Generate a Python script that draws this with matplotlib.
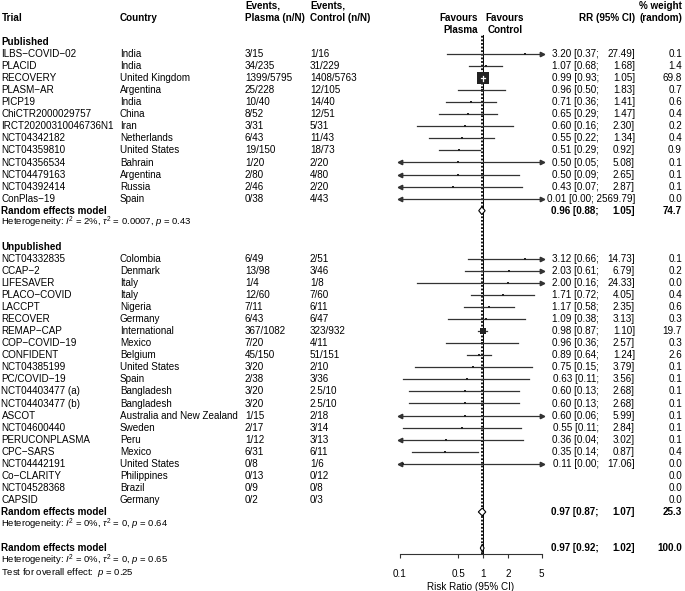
import numpy as np
import matplotlib
matplotlib.use('Agg')
import matplotlib.pyplot as plt
from matplotlib.patches import Polygon
from matplotlib.ticker import NullLocator

plt.rcParams['font.family'] = ['Liberation Sans', 'DejaVu Sans']
plt.rcParams['mathtext.fontset'] = 'custom'
plt.rcParams['mathtext.rm'] = 'Liberation Sans'
plt.rcParams['mathtext.it'] = 'Liberation Sans:italic'
plt.rcParams['mathtext.bf'] = 'Liberation Sans:bold'

# published trials
pub_trials = ['ILBS−COVID−02', 'PLACID', 'RECOVERY', 'PLASM−AR', 'PICP19',
              'ChiCTR2000029757', 'IRCT20200310046736N1', 'NCT04342182',
              'NCT04359810', 'NCT04356534', 'NCT04479163', 'NCT04392414',
              'ConPlas−19']
pub_country = ['India', 'India', 'United Kingdom', 'Argentina', 'India', 'China',
               'Iran', 'Netherlands', 'United States', 'Bahrain', 'Argentina',
               'Russia', 'Spain']
pub_ev_plasma = ['3/15', '34/235', '1399/5795', '25/228', '10/40', '8/52', '3/31',
                 '6/43', '19/150', '1/20', '2/80', '2/46', '0/38']
pub_ev_control = ['1/16', '31/229', '1408/5763', '12/105', '14/40', '12/51', '5/31',
                  '11/43', '18/73', '2/20', '4/80', '2/20', '4/43']
pub_rr = [3.20, 1.07, 0.99, 0.96, 0.71, 0.65, 0.60, 0.55, 0.51, 0.50, 0.50, 0.43, 0.01]
pub_lo = [0.37, 0.68, 0.93, 0.50, 0.36, 0.29, 0.16, 0.22, 0.29, 0.05, 0.09, 0.07, 0.00]
pub_hi = [27.49, 1.68, 1.05, 1.83, 1.41, 1.47, 2.30, 1.34, 0.92, 5.08, 2.65, 2.87, 2569.79]
pub_weight = [0.1, 1.4, 69.8, 0.7, 0.6, 0.4, 0.2, 0.4, 0.9, 0.1, 0.1, 0.1, 0.0]
pub_summary = (0.96, 0.88, 1.05, 74.7)
pub_het = r'Heterogeneity: $I^2$ = 2%, $\tau^2$ = 0.0007, $p$ = 0.43'

# unpublished trials
unp_trials = ['NCT04332835', 'CCAP−2', 'LIFESAVER', 'PLACO−COVID', 'LACCPT', 'RECOVER',
              'REMAP−CAP', 'COP−COVID−19', 'CONFIDENT', 'NCT04385199', 'PC/COVID−19',
              'NCT04403477 (a)', 'NCT04403477 (b)', 'ASCOT', 'NCT04600440',
              'PERUCONPLASMA', 'CPC−SARS', 'NCT04442191', 'Co−CLARITY',
              'NCT04528368', 'CAPSID']
unp_country = ['Colombia', 'Denmark', 'Italy', 'Italy', 'Nigeria', 'Germany',
               'International', 'Mexico', 'Belgium', 'United States', 'Spain',
               'Bangladesh', 'Bangladesh', 'Australia and New Zealand', 'Sweden',
               'Peru', 'Mexico', 'United States', 'Philippines', 'Brazil', 'Germany']
unp_ev_plasma = ['6/49', '13/98', '1/4', '12/60', '7/11', '6/43', '367/1082', '7/20',
                 '45/150', '3/20', '2/38', '3/20', '3/20', '1/15', '2/17', '1/12',
                 '6/31', '0/8', '0/13', '0/9', '0/2']
unp_ev_control = ['2/51', '3/46', '1/8', '7/60', '6/11', '6/47', '323/932', '4/11',
                  '51/151', '2/10', '3/36', '2.5/10', '2.5/10', '2/18', '3/14', '3/13',
                  '6/11', '1/6', '0/12', '0/8', '0/3']
unp_rr = [3.12, 2.03, 2.00, 1.71, 1.17, 1.09, 0.98, 0.96, 0.89, 0.75, 0.63, 0.60, 0.60,
          0.60, 0.55, 0.36, 0.35, 0.11, np.nan, np.nan, np.nan]
unp_lo = [0.66, 0.61, 0.16, 0.72, 0.58, 0.38, 0.87, 0.36, 0.64, 0.15, 0.11, 0.13, 0.13,
          0.06, 0.11, 0.04, 0.14, 0.00, np.nan, np.nan, np.nan]
unp_hi = [14.73, 6.79, 24.33, 4.05, 2.35, 3.13, 1.10, 2.57, 1.24, 3.79, 3.56, 2.68, 2.68,
          5.99, 2.84, 3.02, 0.87, 17.06, np.nan, np.nan, np.nan]
unp_weight = [0.1, 0.2, 0.0, 0.4, 0.6, 0.3, 19.7, 0.3, 2.6, 0.1, 0.1, 0.1, 0.1, 0.1,
              0.1, 0.1, 0.4, 0.0, 0.0, 0.0, 0.0]
unp_summary = (0.97, 0.87, 1.07, 25.3)
unp_het = r'Heterogeneity: $I^2$ = 0%, $\tau^2$ = 0, $p$ = 0.64'

all_summary = (0.97, 0.92, 1.02, 100.0)
all_het = r'Heterogeneity: $I^2$ = 0%, $\tau^2$ = 0, $p$ = 0.65'
all_test = r'Test for overall effect:  $p$ = 0.25'

ticks = [0.1, 0.5, 1, 2, 5]
tick_labels = ['0.1', '0.5', '1', '2', '5']

FS = 7.1
FS_SMALL = 6.8
LC = '#333333'
XMIN, XMAX = 0.1, 5

fig = plt.figure(figsize=(6.85, 5.91), dpi=100)
# text layer: x in pixels, y in rows
ax_t = fig.add_axes([0, 0, 1, 1])
ax_t.set_xlim(0, 685)
ax_t.set_ylim(45.56, -3.486)
ax_t.axis('off')

# forest layer
ax_f = fig.add_axes([400 / 685, 37 / 591, 141.6 / 685, 519 / 591])
ax_f.patch.set_alpha(0)
ax_f.set_xscale('log')
ax_f.set_xlim(XMIN, XMAX)
ax_f.set_ylim(42.49, -0.58)
px_per_dec = 141.6 / np.log10(XMAX / XMIN)


def txt(x, row, s, ha='left', bold=False, size=FS):
    ax_t.text(x, row, s, ha=ha, va='center', fontsize=size,
              fontweight='bold' if bold else 'normal', color='black')


def rr_text(row, rr, lo, hi, w, bold=False):
    if not np.isnan(rr):
        hi_s = f'{hi:.2f}]'
        if len(hi_s) > 6:
            txt(635, row, f'{rr:.2f} [{lo:.2f}; {hi_s}', ha='right', bold=bold)
        else:
            txt(599, row, f'{rr:.2f} [{lo:.2f};', ha='right', bold=bold)
            txt(635, row, hi_s, ha='right', bold=bold)
    txt(682, row, f'{w:.1f}', ha='right', bold=bold)


def draw_trial(row, rr, lo, hi, w):
    if np.isnan(rr):
        return
    x0, x1 = max(lo, XMIN), min(hi, XMAX)
    ax_f.plot([x0, x1], [row, row], color=LC, lw=0.9, clip_on=False, zorder=3)
    if lo < XMIN:
        ax_f.plot(XMIN, row, marker='<', ms=3.2, color=LC, clip_on=False, zorder=3)
    if hi > XMAX:
        ax_f.plot(XMAX, row, marker='>', ms=3.2, color=LC, clip_on=False, zorder=3)
    if XMIN <= rr <= XMAX:
        size_px = max(1.32 * np.sqrt(w), 2.8)
        ax_f.plot(rr, row, marker='s', ms=size_px * 0.72, color='#222222',
                  mec='#222222', mew=0, clip_on=False, zorder=4)
        hw = size_px / 2 / px_per_dec
        if np.log10(rr / x0) < hw and np.log10(x1 / rr) < hw:
            ax_f.plot([lo, hi], [row, row], color='white', lw=0.9, zorder=5)
            vh = size_px / 12.05 * 0.22
            ax_f.plot([rr, rr], [row - vh, row + vh], color='white', lw=0.9, zorder=5)


def draw_diamond(row, rr, lo, hi):
    h = 0.32
    ax_f.add_patch(Polygon([(lo, row), (rr, row - h), (hi, row), (rr, row + h)],
                           closed=True, facecolor='white', edgecolor='black',
                           lw=0.8, zorder=6, clip_on=False))


# headers
txt(1.5, -2, 'Trial', bold=True)
txt(120, -2, 'Country', bold=True)
txt(245, -3, 'Events,', bold=True)
txt(245, -2, 'Plasma (n/N)', bold=True)
txt(310, -3, 'Events,', bold=True)
txt(310, -2, 'Control (n/N)', bold=True)
txt(478, -2, 'Favours', ha='right', bold=True)
txt(478, -1, 'Plasma', ha='right', bold=True)
txt(505, -2, 'Favours', ha='center', bold=True)
txt(505, -1, 'Control', ha='center', bold=True)
txt(635, -2, 'RR (95% CI)', ha='right', bold=True)
txt(682, -3, '% weight', ha='right', bold=True)
txt(682, -2, '(random)', ha='right', bold=True)

groups = [
    ('Published', 0, pub_trials, pub_country, pub_ev_plasma, pub_ev_control,
     pub_rr, pub_lo, pub_hi, pub_weight, pub_summary, pub_het),
    ('Unpublished', 17, unp_trials, unp_country, unp_ev_plasma, unp_ev_control,
     unp_rr, unp_lo, unp_hi, unp_weight, unp_summary, unp_het),
]

for (title, start, trials, country, evp, evc, rr, lo, hi, wt, summ, het) in groups:
    txt(1.5, start, title, bold=True)
    for i in range(len(trials)):
        row = start + 1 + i
        txt(1.5, row, trials[i])
        txt(120, row, country[i])
        txt(245, row, evp[i])
        txt(310, row, evc[i])
        rr_text(row, rr[i], lo[i], hi[i], wt[i])
        draw_trial(row, rr[i], lo[i], hi[i], wt[i])
    srow = start + 1 + len(trials)
    txt(1.5, srow, 'Random effects model', bold=True)
    rr_text(srow, *summ, bold=True)
    draw_diamond(srow, summ[0], summ[1], summ[2])
    txt(1.5, srow + 1, het, size=FS_SMALL)

# overall
txt(1.5, 42, 'Random effects model', bold=True)
rr_text(42, *all_summary, bold=True)
draw_diamond(42, all_summary[0], all_summary[1], all_summary[2])
txt(1.5, 43, all_het, size=FS_SMALL)
txt(1.5, 44, all_test, size=FS_SMALL)

# null line and overall effect line
ax_f.axvline(1, color='black', lw=0.7, zorder=2)
ax_f.axvline(all_summary[0], color='black', lw=1.3, ls=(0, (1, 1)), zorder=2)

# axis
for s in ['top', 'left', 'right']:
    ax_f.spines[s].set_visible(False)
ax_f.spines['bottom'].set_color(LC)
ax_f.spines['bottom'].set_linewidth(0.8)
ax_f.set_yticks([])
ax_f.set_xticks(ticks)
ax_f.set_xticklabels(tick_labels)
ax_f.xaxis.set_minor_locator(NullLocator())
ax_f.tick_params(axis='x', direction='out', length=3.2, width=0.8, color=LC,
                 pad=7.5, labelsize=FS)
ax_f.set_xlabel('Risk Ratio (95% CI)', fontsize=FS, labelpad=2)

fig.savefig('out.png', dpi=100)
